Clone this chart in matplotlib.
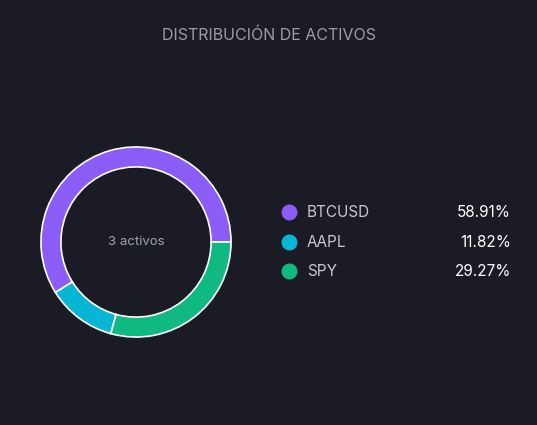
import matplotlib
matplotlib.use('Agg')
import matplotlib.pyplot as plt

# data
labels = ['BTCUSD', 'AAPL', 'SPY']
values = [58.91, 11.82, 29.27]
colors = ['#8b5cf6', '#06b6d4', '#10b981']
bg = '#1a1b24'

fig = plt.figure(figsize=(5.37, 4.25), dpi=100, facecolor=bg)
plt.rcParams['font.family'] = ['Inter', 'DejaVu Sans']

# donut
ax = fig.add_axes([(136 - 96)/537, 1 - (242 + 96)/425, 192/537, 192/425])
ax.set_facecolor(bg)
ax.pie(values, colors=colors, startangle=0, counterclock=True,
       radius=1.0, wedgeprops=dict(width=0.21, edgecolor='white', linewidth=1.2))
ax.set_xlim(-1.01, 1.01)
ax.set_ylim(-1.01, 1.01)
ax.set_aspect('equal')
ax.text(0, 0, '3 activos', ha='center', va='center', color='#9ca3af', fontsize=9.5)

# title
fig.text(0.5, 1 - 35/425, 'DISTRIBUCIÓN DE ACTIVOS', ha='center', va='center',
         color='#9a9ba5', fontsize=11.5)

# legend
lax = fig.add_axes([0, 0, 1, 1])
lax.set_xlim(0, 537)
lax.set_ylim(425, 0)
lax.axis('off')
ys = [212, 242, 271]
for lab, v, c, y in zip(labels, values, colors, ys):
    lax.scatter([289], [y], s=110, color=c)
    lax.text(307, y, lab, ha='left', va='center', color='#c7c8d0', fontsize=11)
    lax.text(511, y, f'{v:.2f}%', ha='right', va='center', color='white', fontsize=11)

fig.savefig('out.png', dpi=100, facecolor=bg)
